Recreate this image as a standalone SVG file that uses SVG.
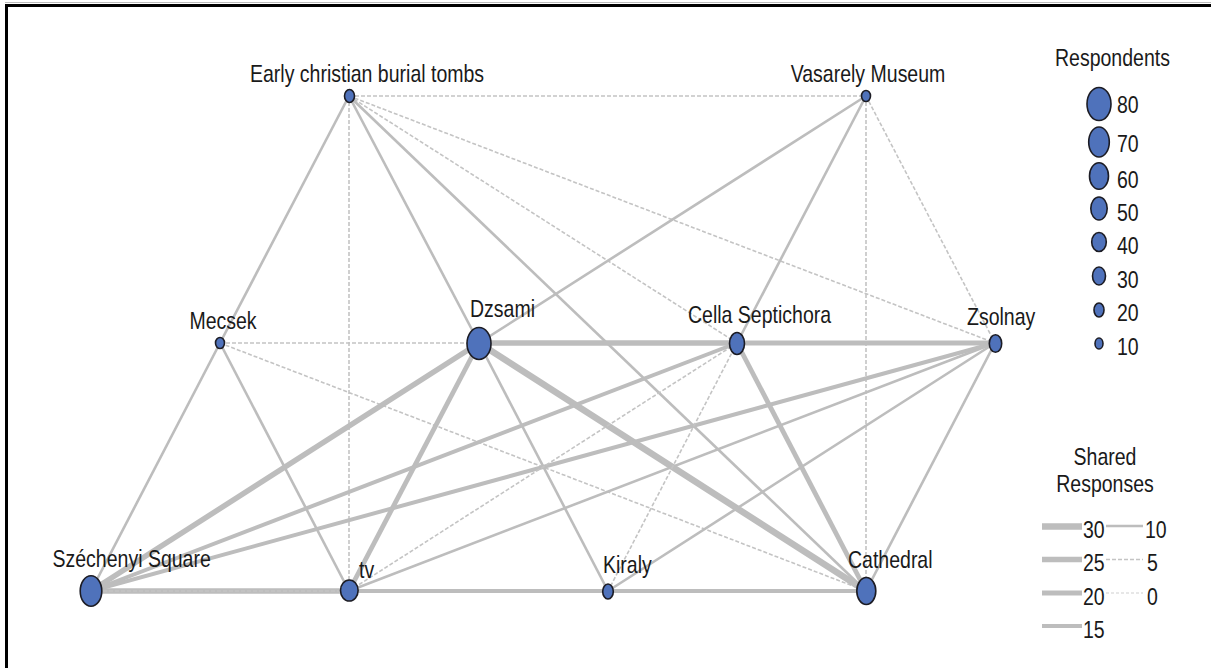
<svg xmlns="http://www.w3.org/2000/svg" width="1211" height="668" viewBox="0 0 1211 668">
<defs>
<style>
.e{stroke:#bdbdbd;fill:none;stroke-linecap:butt}
.w30{stroke-width:6.5}.w25{stroke-width:5.5}.w20{stroke-width:4.8}.w15{stroke-width:4}.w10{stroke-width:2.6}
.w5{stroke-width:1.6;stroke-dasharray:4 2;stroke:#c4c4c4}
.w0{stroke-width:1.2;stroke-dasharray:3 2;stroke:#cfcfcf}
.n{fill:#4f72bb;stroke:#1c1c24;stroke-width:1.6}
.t{font-family:"Liberation Sans",Arial,sans-serif;font-size:19.5px;fill:#1a1a1a}
</style>
</defs>
<rect width="1211" height="668" fill="#fff"/>
<line x1="5" y1="2.5" x2="1211" y2="2.5" stroke="#bbb" stroke-width="1"/>
<line x1="5" y1="5.5" x2="1211" y2="5.5" stroke="#000" stroke-width="3"/>
<line x1="6.5" y1="4" x2="6.5" y2="668" stroke="#000" stroke-width="3"/>

<g id="connectors">
<line class="e w5" x1="349" y1="96" x2="866" y2="96"/>
<line class="e w10" x1="349" y1="96" x2="220" y2="343"/>
<line class="e w5" x1="349" y1="96" x2="349" y2="591"/>
<line class="e w10" x1="349" y1="96" x2="479" y2="343"/>
<line class="e w5" x1="349" y1="96" x2="737" y2="343"/>
<line class="e w5" x1="349" y1="96" x2="995" y2="343"/>
<line class="e w10" x1="349" y1="96" x2="866" y2="591"/>
<line class="e w5" x1="866" y1="96" x2="866" y2="591"/>
<line class="e w5" x1="866" y1="96" x2="995" y2="343"/>
<line class="e w10" x1="866" y1="96" x2="737" y2="343"/>
<line class="e w10" x1="866" y1="96" x2="479" y2="343"/>
<line class="e w10" x1="220" y1="343" x2="91" y2="591"/>
<line class="e w10" x1="220" y1="343" x2="349" y2="591"/>
<line class="e w5" x1="220" y1="343" x2="479" y2="343"/>
<line class="e w5" x1="220" y1="343" x2="866" y2="591"/>
<line class="e w10" x1="479" y1="343" x2="608" y2="591"/>
<line class="e w25" x1="479" y1="343" x2="737" y2="343"/>
<line class="e w20" x1="737" y1="343" x2="995" y2="343"/>
<line class="e w25" x1="479" y1="343" x2="91" y2="591"/>
<line class="e w20" x1="479" y1="343" x2="349" y2="591"/>
<line class="e w30" x1="479" y1="343" x2="866" y2="591"/>
<line class="e w15" x1="91" y1="591" x2="737" y2="343"/>
<line class="e w15" x1="91" y1="591" x2="995" y2="343"/>
<line class="e w25" x1="91" y1="591" x2="349" y2="591"/>
<line class="e w5" x1="91" y1="591" x2="349" y2="591"/>
<line class="e w15" x1="349" y1="591" x2="866" y2="591"/>
<line class="e w5" x1="349" y1="591" x2="737" y2="343"/>
<line class="e w10" x1="349" y1="591" x2="995" y2="343"/>
<line class="e w20" x1="737" y1="343" x2="866" y2="591"/>
<line class="e w5" x1="737" y1="343" x2="608" y2="591"/>
<line class="e w10" x1="995" y1="343" x2="608" y2="591"/>
<line class="e w10" x1="995" y1="343" x2="866" y2="591"/>
</g>

<g id="node-early-christian"><ellipse class="n" cx="349.5" cy="96" rx="5" ry="6.5"/><text class="t" transform="translate(250 82) scale(1 1.22)">Early christian burial tombs</text></g>
<g id="node-vasarely"><ellipse class="n" cx="866" cy="96" rx="4.5" ry="5.5"/><text class="t" text-anchor="middle" transform="translate(868 82) scale(1 1.22)">Vasarely Museum</text></g>
<g id="node-mecsek"><ellipse class="n" cx="220" cy="343" rx="4.5" ry="5.5"/><text class="t" text-anchor="middle" transform="translate(223 329) scale(1 1.22)">Mecsek</text></g>
<g id="node-dzsami"><ellipse class="n" cx="479" cy="343.5" rx="12" ry="16"/><text class="t" transform="translate(470 317) scale(1 1.22)">Dzsami</text></g>
<g id="node-cella"><ellipse class="n" cx="737" cy="343.5" rx="7.5" ry="11"/><text class="t" transform="translate(688 323) scale(1 1.22)">Cella Septichora</text></g>
<g id="node-zsolnay"><ellipse class="n" cx="995.5" cy="343.5" rx="6.2" ry="8.8"/><text class="t" transform="translate(967 325) scale(1 1.22)">Zsolnay</text></g>
<g id="node-szechenyi"><ellipse class="n" cx="91" cy="591" rx="10.8" ry="15.3"/><text class="t" transform="translate(52.5 566.5) scale(1 1.22)">Széchenyi Square</text></g>
<g id="node-tv"><ellipse class="n" cx="349.3" cy="590.5" rx="8.8" ry="10.5"/><text class="t" transform="translate(359 578) scale(1 1.22)">tv</text></g>
<g id="node-kiraly"><ellipse class="n" cx="608" cy="591.5" rx="5.3" ry="7.5"/><text class="t" transform="translate(603 573) scale(1 1.22)">Kiraly</text></g>
<g id="node-cathedral"><ellipse class="n" cx="866.3" cy="591" rx="9.5" ry="13.5"/><text class="t" transform="translate(848 568) scale(1 1.22)">Cathedral</text></g>

<g id="legend-respondents">
<text class="t" transform="translate(1055 66) scale(1 1.22)">Respondents</text>
<ellipse class="n" cx="1099" cy="104" rx="12" ry="16.5"/>
<ellipse class="n" cx="1099" cy="142" rx="10.3" ry="15"/>
<ellipse class="n" cx="1099" cy="176" rx="9.5" ry="13.3"/>
<ellipse class="n" cx="1099" cy="208.5" rx="8.2" ry="11.5"/>
<ellipse class="n" cx="1099" cy="242" rx="7.3" ry="9.5"/>
<ellipse class="n" cx="1099" cy="276" rx="6.5" ry="9"/>
<ellipse class="n" cx="1099" cy="310" rx="5" ry="7"/>
<ellipse class="n" cx="1099" cy="343.5" rx="4" ry="5.5"/>
<text class="t" transform="translate(1117 113) scale(1 1.22)">80</text>
<text class="t" transform="translate(1117 152) scale(1 1.22)">70</text>
<text class="t" transform="translate(1117 188) scale(1 1.22)">60</text>
<text class="t" transform="translate(1117 221) scale(1 1.22)">50</text>
<text class="t" transform="translate(1117 254) scale(1 1.22)">40</text>
<text class="t" transform="translate(1117 288) scale(1 1.22)">30</text>
<text class="t" transform="translate(1117 321) scale(1 1.22)">20</text>
<text class="t" transform="translate(1117 355) scale(1 1.22)">10</text>
</g>

<g id="legend-shared">
<text class="t" text-anchor="middle" transform="translate(1105 465) scale(1 1.22)">Shared</text>
<text class="t" text-anchor="middle" transform="translate(1105 492) scale(1 1.22)">Responses</text>
<line class="e w30" x1="1042" y1="526.5" x2="1082" y2="526.5" stroke-linecap="round"/>
<line class="e w25" x1="1042" y1="559.5" x2="1082" y2="559.5" stroke-linecap="round"/>
<line class="e w20" x1="1042" y1="593" x2="1082" y2="593" stroke-linecap="round"/>
<line class="e w15" x1="1042" y1="626" x2="1082" y2="626" stroke-linecap="round"/>
<line class="e w10" x1="1106" y1="526" x2="1143" y2="526"/>
<line class="e w5" x1="1106" y1="559.5" x2="1143" y2="559.5"/>
<line class="e w0" x1="1106" y1="593" x2="1143" y2="593"/>
<text class="t" transform="translate(1083 538) scale(1 1.22)">30</text>
<text class="t" transform="translate(1083 571) scale(1 1.22)">25</text>
<text class="t" transform="translate(1083 605) scale(1 1.22)">20</text>
<text class="t" transform="translate(1083 638) scale(1 1.22)">15</text>
<text class="t" transform="translate(1145 538) scale(1 1.22)">10</text>
<text class="t" transform="translate(1147 571) scale(1 1.22)">5</text>
<text class="t" transform="translate(1147 605) scale(1 1.22)">0</text>
</g>
</svg>
